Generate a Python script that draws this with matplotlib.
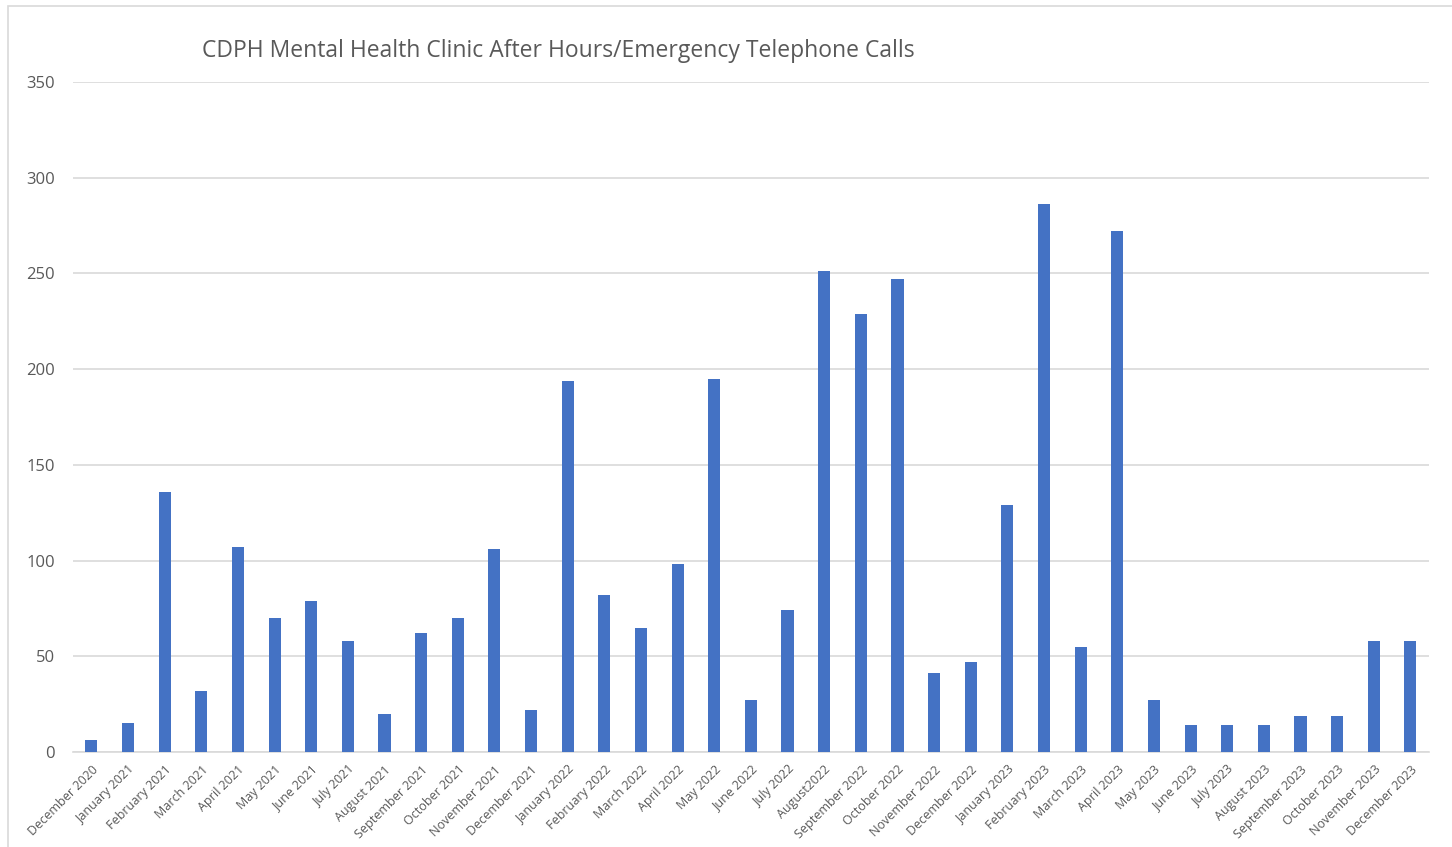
import matplotlib.pyplot as plt
from matplotlib.patches import Rectangle

months = [
    "December 2020", "January 2021", "February 2021", "March 2021", "April 2021",
    "May 2021", "June 2021", "July 2021", "August 2021", "September 2021",
    "October 2021", "November 2021", "December 2021", "January 2022",
    "February 2022", "March 2022", "April 2022", "May 2022", "June 2022",
    "July 2022", "August2022", "September 2022", "October 2022",
    "November 2022", "December 2022", "January 2023", "February 2023",
    "March 2023", "April 2023", "May 2023", "June 2023", "July 2023",
    "August 2023", "September 2023", "October 2023", "November 2023",
    "December 2023",
]
calls = [6, 15, 136, 32, 107, 70, 79, 58, 20, 62, 70, 106, 22, 194, 82, 65, 98,
         195, 27, 74, 251, 229, 247, 41, 47, 129, 286, 55, 272, 27, 14, 14, 14,
         19, 19, 58, 58]

plt.rcParams["font.family"] = ["Open Sans", "DejaVu Sans"]

fig = plt.figure(figsize=(14.52, 8.47), dpi=100)
ax = fig.add_axes([0.0503, 0.1122, 0.9337, 0.791])

# chart area border
fig.patches.append(Rectangle((8 / 1452, -0.01), 1.02, 1 - 6 / 847 + 0.01,
                             transform=fig.transFigure, fill=False,
                             edgecolor="#d9d9d9", linewidth=1.2))

x = list(range(len(months)))
ax.bar(x, calls, width=0.33, color="#4472C4", zorder=3)

ax.set_xlim(-0.5, len(months) - 0.5)
ax.set_ylim(0, 350)
ax.set_yticks(range(0, 351, 50))
ax.yaxis.grid(True, color="#d9d9d9", linewidth=1.2)
ax.set_axisbelow(True)

ax.set_xticks(x)
ax.set_xticklabels(months, rotation=45, ha="right", rotation_mode="anchor",
                   fontsize=9, color="#595959")
ax.tick_params(axis="y", labelsize=12, colors="#595959", length=0, pad=13)
ax.tick_params(axis="x", length=0, pad=8)

for s in ["top", "right", "left"]:
    ax.spines[s].set_visible(False)
ax.spines["bottom"].set_color("#d9d9d9")
ax.spines["bottom"].set_linewidth(1.2)

fig.text(558 / 1452, 1 - 51 / 847, "CDPH Mental Health Clinic After Hours/Emergency Telephone Calls",
         ha="center", va="center", fontsize=16.5, color="#595959")

fig.savefig("out.png", dpi=100)
